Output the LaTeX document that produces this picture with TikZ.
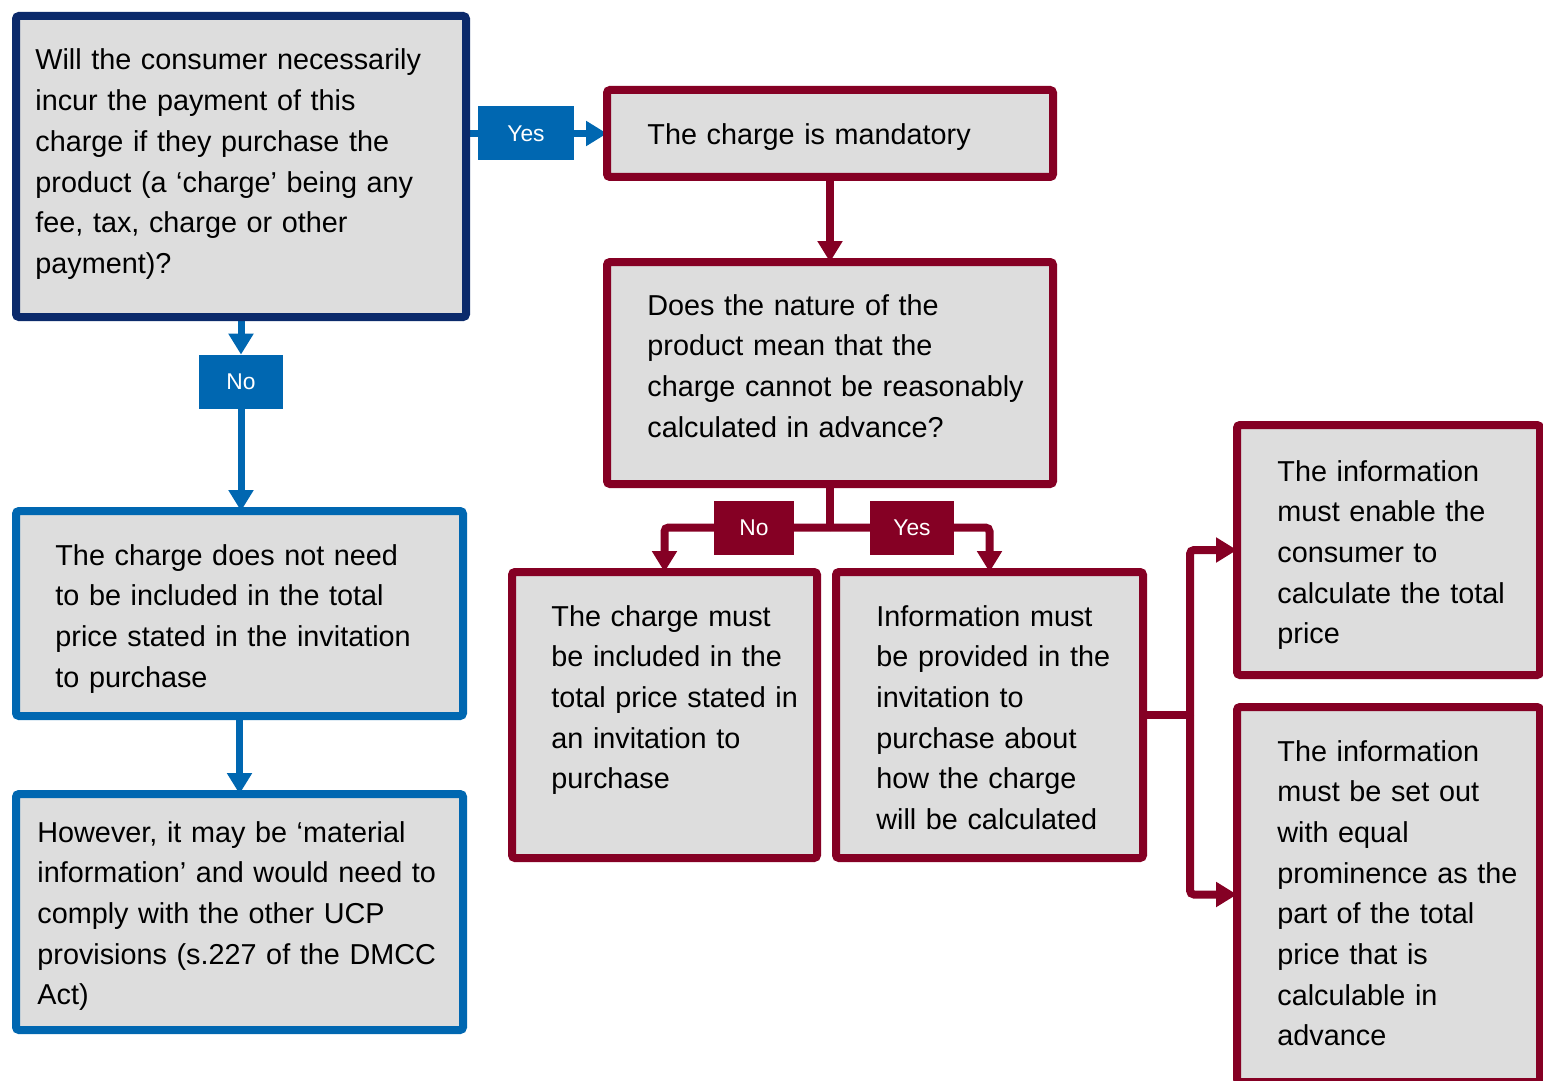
\documentclass[tikz,border=0pt]{standalone}
\usepackage{fontspec}
\setmainfont{Liberation Sans}
\usetikzlibrary{arrows.meta}
\definecolor{navy}{HTML}{0B2A6B}
\definecolor{cmablue}{HTML}{0067B1}
\definecolor{cmared}{HTML}{850024}
\definecolor{boxfill}{HTML}{DDDDDD}
\pgfdeclarelayer{conn}
\pgfsetlayers{conn,main}
\tikzset{
  box/.style={draw, line width=4pt, fill=boxfill, rounded corners=1.5pt, inner sep=0pt, outer sep=0pt},
  navybox/.style={box, draw=navy},
  bluebox/.style={box, draw=cmablue},
  redbox/.style={box, draw=cmared},
  txt/.style={anchor=base west, inner sep=0pt, text width=400pt, align=left,
    font=\fontsize{14.4}{20.35}\selectfont},
  lab/.style={inner sep=0pt, minimum height=27pt, text=white,
    font=\fontsize{11.4}{12}\selectfont},
  bluelab/.style={lab, fill=cmablue},
  redlab/.style={lab, fill=cmared},
  bluearrow/.style={draw=cmablue, line width=3.5pt, -{Triangle[length=10.5pt,width=12pt]}},
  redline/.style={draw=cmared, line width=4pt, rounded corners=2pt},
  redarrow/.style={redline, -{Triangle[length=10.5pt,width=12pt]}},
}
\begin{document}
\begin{tikzpicture}[x=0.5pt, y=-0.5pt]
\useasboundingbox (0,0) rectangle (1543,1081);
% boxes
\node[navybox, minimum width=225pt, minimum height=150.5pt] (A) at (241,166.5) {};
\node[redbox, minimum width=223pt, minimum height=43.5pt] (B) at (830,133.5) {};
\node[redbox, minimum width=223pt, minimum height=111pt] (C) at (830,373) {};
\node[redbox, minimum width=152.5pt, minimum height=143pt] (D) at (664.5,715) {};
\node[redbox, minimum width=153.5pt, minimum height=143pt] (E) at (989.5,715) {};
\node[redbox, minimum width=151.5pt, minimum height=125pt] (F) at (1388.5,550) {};
\node[redbox, minimum width=151.5pt, minimum height=187.5pt] (G) at (1388.5,894.5) {};
\node[bluebox, minimum width=223.5pt, minimum height=102.5pt] (H) at (239.5,613.5) {};
\node[bluebox, minimum width=223.5pt, minimum height=118pt] (I) at (239.5,912) {};
% texts
\node[txt] (tA) at (35,70) {Will the consumer necessarily\\ incur the payment of this\\ charge if they purchase the\\ product (a ‘charge’ being any\\ fee, tax, charge or other\\ payment)?};
\node[txt] (tB) at (647,145) {The charge is mandatory};
\node[txt] (tC) at (647,315) {Does the nature of the\\ product mean that the\\ charge cannot be reasonably\\ calculated in advance?};
\node[txt] (tD) at (551,626) {The charge must\\ be included in the\\ total price stated in\\ an invitation to\\ purchase};
\node[txt] (tE) at (876,626) {Information must\\ be provided in the\\ invitation to\\ purchase about\\ how the charge\\ will be calculated};
\node[txt] (tF) at (1277,481) {The information\\ must enable the\\ consumer to\\ calculate the total\\ price};
\node[txt] (tG) at (1277,761) {The information\\ must be set out\\ with equal\\ prominence as the\\ part of the total\\ price that is\\ calculable in\\ advance};
\node[txt] (tH) at (55,565) {The charge does not need\\ to be included in the total\\ price stated in the invitation\\ to purchase};
\node[txt] (tI) at (37,842) {However, it may be ‘material\\ information’ and would need to\\ comply with the other UCP\\ provisions (s.227 of the DMCC\\ Act)};
% label nodes
\node[bluelab, minimum width=48pt] (yesA) at (526,133.5) {Yes};
\node[bluelab, minimum width=42pt] (noA) at (241,382) {No};
\node[redlab, minimum width=40pt] (noC) at (754,527.5) {No};
\node[redlab, minimum width=42pt] (yesC) at (912,527.5) {Yes};
\coordinate (split) at (830,527.5);
\coordinate (fork) at (1190,715);
% connectors
\begin{pgfonlayer}{conn}
\draw[bluearrow] (A.east |- B.west) -- (B.west);
\draw[bluearrow] (A.south -| noA) -- (noA.north);
\draw[bluearrow] (noA.south) -- (H.north -| noA);
\draw[bluearrow] (H.south) -- (I.north);
\draw[redarrow] (B.south) -- (C.north);
\draw[redline] (C.south) -- (split);
\draw[redarrow] (split) -| (D.north);
\draw[redarrow] (split) -| (E.north);
\draw[redline] (E.east) -- (fork);
\draw[redarrow] (fork) |- (F.west);
\draw[redarrow] (fork) |- (G.west);
\end{pgfonlayer}
\end{tikzpicture}
\end{document}
